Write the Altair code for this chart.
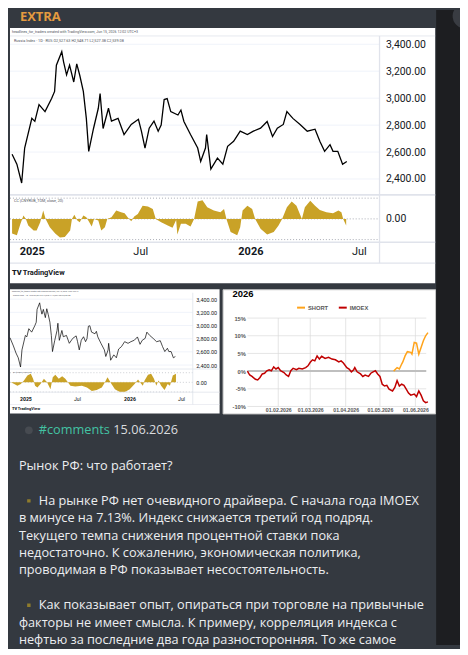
import altair as alt
import pandas as pd

# ---------------- values ----------------
# Russia Index (RTS) closes, day offsets counted from 2025-01-01
rts_days = [-33, -25, -17, -12, 0, 5, 12, 22, 33, 38, 41, 50, 53, 58, 63, 70, 75, 80, 86, 91,
            95, 103, 111, 114, 119, 128, 133, 144, 154, 166, 178, 183, 189, 196, 204, 211, 216,
            221, 226, 232, 244, 249, 254, 265, 277, 282, 290, 292, 299, 310, 319, 327, 337, 348,
            360, 370, 382, 393, 402, 410, 420, 426, 436, 448, 460, 473, 481, 489, 498, 503, 511,
            519, 526]
rts_close = [2583, 2510, 2370, 2630, 2850, 2828, 2952, 2900, 2997, 3050, 3245, 3345, 3270, 3173,
             3245, 3120, 3255, 3170, 3050, 2850, 2605, 2775, 2925, 3035, 2775, 2925, 2830, 2850,
             2730, 2805, 2843, 2755, 2630, 2777, 2830, 2755, 2800, 2990, 2997, 2900, 2875, 2912,
             2827, 2730, 2630, 2530, 2630, 2730, 2473, 2555, 2510, 2643, 2680, 2755, 2730, 2755,
             2777, 2827, 2715, 2777, 2805, 2900, 2850, 2805, 2755, 2770, 2680, 2605, 2655, 2605,
             2605, 2510, 2530]
# the small copy of the chart starts a little earlier
rts_pre_days = [-54, -42]
rts_pre_close = [2815, 2690]

# correlation panel of the large chart
cc_days = [-33, -25, -19, -14, -10, -6, 3, 8, 14, 19, 23, 30, 39, 47, 55, 64, 67, 71, 76, 80, 86,
           91, 95, 100, 104, 111, 116, 122, 126, 133, 141, 149, 155, 160, 166, 171, 177, 185, 194,
           202, 207, 216, 227, 235, 241, 243, 249, 257, 265, 271, 277, 285, 293, 304, 315, 321,
           325, 332, 343, 348, 352, 360, 368, 373, 382, 393, 404, 412, 418, 426, 434, 442, 451,
           456, 465, 473, 481, 492, 503, 512, 517, 520, 525]
cc_vals = [-0.71, -0.79, -0.24, 0.16, 0, -0.32, -0.56, -0.56, -0.16, 0.40, 0, -0.40, -0.71, -0.90,
           -0.87, -0.56, 0, 0.20, -0.08, -0.16, 0.16, 0.08, -0.11, -0.37, 0, -0.08, -0.56, -0.40,
           0, 0.08, 0.40, 0.32, 0.27, 0.08, -0.11, 0.11, 0.24, 0.63, 0.60, 0.48, 0, -0.16, -0.32,
           -0.43, -0.05, -0.75, -0.24, -0.24, -0.37, 0, 0.84, 0.90, 0.56, 0.40, 0.32, 0.48, 0,
           -0.63, -0.79, -0.40, 0.40, 0.63, 0.48, 0, -0.48, -0.76, -0.63, -0.32, 0, 0.56, 0.84,
           0.63, 0, 0.56, 0.87, 0.63, 0.43, 0.32, 0.27, 0.40, 0.32, 0, -0.32]

# correlation panel of the small chart
cc2_days = [-51, -39, -28, -16, -5, 7, 19, 27, 34, 42, 53, 65, 76, 88, 96, 105, 117, 129, 140, 149,
            158, 175, 198, 216, 233, 250, 268, 279, 288, 302, 314, 331, 349, 366, 383, 395, 404,
            412, 418, 430, 441, 451, 459, 467, 476, 488, 499, 507, 517, 528]
cc2_vals = [0, -0.18, -0.36, -0.18, 0.18, 0.71, 0.89, 0.36, -0.36, -0.54, -0.18, 0.36, 0, -0.71,
            0.54, 0.79, 0.36, 0.64, 0.36, 0, -0.36, -0.43, -0.36, -0.54, -0.89, -0.79, -0.54, 0,
            0.54, -0.18, -0.71, -1.0, -1.0, -0.71, -0.18, 0.29, -0.07, -0.36, 0.18, 0.79, 0.89,
            0.36, -0.36, 0.18, -0.36, -0.79, -0.18, -0.36, 0.71, 0.89]

# 2026 panel: day offsets from 2026-01-01, % change since the start of the year
imoex_days = [4, 6, 8, 11, 13, 15, 17, 19, 21, 23, 25, 27, 29, 31, 33, 36, 38, 40, 42, 44, 47, 49,
              52, 55, 57, 59, 61, 63, 65, 67, 69, 72, 75, 78, 81, 84, 86, 88, 91, 93, 95, 97, 98,
              100, 103, 105, 107, 110, 112, 114, 116, 118, 120, 122, 124, 126, 128, 131, 133, 135,
              137, 139, 141, 143, 145, 147, 150, 152, 154, 156, 158, 160, 162]
imoex_pct = [0, -1.1, -1.5, -2.3, -2.5, -1.8, -0.8, -0.6, 0.1, 0.4, 0.1, 1.2, 0.6, 1.0, 0.1, -0.4,
             -1.1, -1.5, 0.1, 0.8, 0.4, 0.8, 0.6, 1.0, 1.5, 2.5, 3.2, 2.9, 4.3, 3.4, 4.2, 3.6, 3.9,
             3.4, 3.2, 2.6, 2.9, 2.3, 1.0, 0.6, -0.2, 0.4, 1.0, -0.2, -0.8, -1.5, -1.1, -1.5, -0.6,
             -0.2, 0.1, -0.8, -1.5, -3.7, -4.2, -4.0, -5.1, -5.6, -4.6, -2.7, -4.2, -3.7, -4.0,
             -5.1, -6.2, -6.8, -6.5, -7.2, -5.6, -6.8, -8.4, -8.9, -8.7]
short_days = [132, 135, 137, 139, 140, 142, 144, 147, 148, 150, 152, 154, 156, 158, 160, 162]
short_pct = [0, 1.0, 0.6, 2.0, 2.6, 4.3, 5.5, 5.3, 4.8, 8.1, 7.9, 4.8, 6.7, 8.6, 10.0, 10.9]
series_names = ["SHORT", "IMOEX"]

price_ticks = [2400, 2600, 2800, 3000, 3200, 3400]
cc_levels = [-1, 0, 1]
pct_ticks = [-10, -5, 0, 5, 10, 15]

# ---------------- texts ----------------
header_label = "EXTRA"
tv_caption = "headlines_for_traders created with TradingView.com, Jun 15, 2026 12:02 UTC+3"
tv_symbol = "Russia Index · 1D · RUS  O2,527.63 H2,548.71 L2,527.38 C2,539.08"
cc_caption = "CC (CNYRUB_TOM, close, 20)"
cc2_caption = "CC (UKOIL, close, 20)"
tv_logo = "TV"
tv_brand = "TradingView"
perf_title = "2026"
post_tag = "#comments"
post_date = "15.06.2026"
post_title = "Рынок РФ: что работает?"
para1 = ["На рынке РФ нет очевидного драйвера. С начала года IMOEX",
         "в минусе на 7.13%. Индекс снижается третий год подряд.",
         "Текущего темпа снижения процентной ставки пока",
         "недостаточно. К сожалению, экономическая политика,",
         "проводимая в РФ показывает несостоятельность."]
para2 = ["Как показывает опыт, опираться при торговле на привычные",
         "факторы не имеет смысла. К примеру, корреляция индекса с",
         "нефтью за последние два года разносторонняя. То же самое"]

# ---------------- styles ----------------
BUBBLE = "#343940"
OUTER = "#1d1e21"
ORANGE_H = "#e49b3f"
TEXT = "#eceef0"
TEAL = "#43c3a3"
GOLD = "#c9a227"
TVTXT = "#131722"
SEP = "#e0e3eb"
TVF = "Roboto"
TGF = "Open Sans"
XLF = "Liberation Sans"

D25 = pd.Timestamp("2025-01-01")
D26 = pd.Timestamp("2026-01-01")


def dates(base, days):
    return [base + pd.Timedelta(days=int(d)) for d in days]


def dt(y, m, d, h=0):
    return alt.DateTime(year=y, month=m, date=d, hours=h)


rts = pd.DataFrame({"date": dates(D25, rts_days), "close": rts_close})
rts_small = pd.DataFrame({"date": dates(D25, rts_pre_days + rts_days),
                          "close": rts_pre_close + rts_close})
cc = pd.DataFrame({"date": dates(D25, cc_days), "cc": cc_vals})
cc2 = pd.DataFrame({"date": dates(D25, cc2_days), "cc": cc2_vals})
perf = pd.concat([
    pd.DataFrame({"date": dates(D26, short_days), "pct": short_pct, "series": series_names[0]}),
    pd.DataFrame({"date": dates(D26, imoex_days), "pct": imoex_pct, "series": series_names[1]}),
], ignore_index=True)

ONE = pd.DataFrame({"k": [0]})


def label(x, y, text, size, color, weight="normal", font=TVF, baseline="middle", clip=False):
    return alt.Chart(ONE).mark_text(
        text=text, fontSize=size, color=color, fontWeight=weight, font=font,
        align="left", baseline=baseline, clip=clip,
    ).encode(x=alt.value(x), y=alt.value(y))


def hrule(y, x0, x1, color, w):
    return alt.Chart(ONE).mark_rule(color=color, strokeWidth=w).encode(
        x=alt.value(x0), x2=alt.value(x1), y=alt.value(y))


def vrule(x, y0, y1, color, w):
    return alt.Chart(ONE).mark_rule(color=color, strokeWidth=w).encode(
        y=alt.value(y0), y2=alt.value(y1), x=alt.value(x))


TIME_TICKS = [dt(2025, 1, 1), dt(2025, 7, 1), dt(2026, 1, 1), dt(2026, 7, 1)]
BOLD_YEAR = {"condition": {"test": "month(datum.value) == 0", "value": "bold"}, "value": "normal"}


def tv_panel(price_df, cc_df, g, cc_text):
    W, H, PX = g["W"], g["H"], g["PX"]
    x_enc = alt.X(
        "date:T", title=None,
        scale=alt.Scale(domain=g["xdom"], range=[0, PX]),
        axis=alt.Axis(
            orient="bottom", offset=g["tlab"] - H, values=TIME_TICKS,
            labelExpr="month(datum.value) == 0 ? timeFormat(datum.value, '%Y') : timeFormat(datum.value, '%b')",
            labelFontWeight=BOLD_YEAR, labelFontSize=g["tfs"], labelFont=TVF, labelColor=TVTXT,
            labelPadding=0, labelBaseline="middle", ticks=False, domain=False, grid=False,
            labelFlush=False, labelOverlap=False,
        ),
    )
    pscale = alt.Scale(domain=[2400, 3400], range=g["prange"], zero=False, nice=False)
    cscale = alt.Scale(domain=[-1, 1], range=g["crange"], zero=False, nice=False)
    p_axis = alt.Axis(
        orient="right", offset=PX - W, values=price_ticks, format=",.2f",
        labelFontSize=g["pfs"], labelFont=TVF, labelColor=TVTXT, labelPadding=g["lp"],
        ticks=False, domain=False, grid=False, labelFlush=False, labelOverlap=False)
    c_axis = alt.Axis(
        orient="right", offset=PX - W, values=[0], format=".2f",
        labelFontSize=g["pfs"], labelFont=TVF, labelColor=TVTXT, labelPadding=g["lp"],
        ticks=False, domain=False, grid=False, labelFlush=False, labelOverlap=False)

    pgrid = alt.Chart(pd.DataFrame({"close": price_ticks})).mark_rule(
        color="#f0f3fa", strokeWidth=1).encode(
        y=alt.Y("close:Q", scale=pscale, axis=p_axis, title=None),
        x=alt.value(0), x2=alt.value(PX))
    pline = alt.Chart(price_df).mark_line(color="#000000", strokeWidth=g["lw"]).encode(
        x=x_enc, y=alt.Y("close:Q", scale=pscale, axis=p_axis, title=None))
    price_group = alt.layer(pgrid, pline)

    cdots = alt.Chart(pd.DataFrame({"cc": cc_levels})).mark_rule(
        color="#a9acb5", strokeDash=[1, 2], strokeWidth=g["dw"]).encode(
        y=alt.Y("cc:Q", scale=cscale, axis=c_axis, title=None),
        x=alt.value(0), x2=alt.value(PX))
    carea = alt.Chart(cc_df).mark_area(color=GOLD, opacity=1).encode(
        x=x_enc, y=alt.Y("cc:Q", scale=cscale, axis=c_axis, title=None), y2=alt.datum(0))
    cc_group = alt.layer(cdots, carea)

    decor = []
    for (y, w) in g["hlines"]:
        decor.append(hrule(y, 0, W, SEP, w))
    decor.append(vrule(PX, g["vtop"], g["vbot"], SEP, g["vw"]))
    cx, cy, cs = g["cap"]
    decor.append(label(cx, cy, tv_caption, cs, "#50535e"))
    sx, sy, ss = g["sym"]
    decor.append(label(sx, sy, tv_symbol, ss, "#50535e"))
    ax, ay, as_ = g["ccap"]
    decor.append(label(ax, ay, cc_text, as_, "#50535e"))
    bx, by, bs = g["brand"]
    decor.append(label(bx, by, tv_logo, bs, TVTXT, weight=900))
    decor.append(label(bx + bs * 1.45, by, tv_brand, bs, TVTXT, weight="bold"))

    return alt.layer(price_group, cc_group, *decor).resolve_scale(y="independent").properties(
        width=W, height=H, view=alt.ViewBackground(fill="white", strokeWidth=0))


BIG = dict(W=428, H=257, PX=372, xdom=[dt(2024, 11, 25, 12), dt(2026, 8, 4, 17)],
           prange=[152, 16.4], crange=[213, 171.3], tlab=225, pfs=10.5, tfs=11, lp=6,
           lw=1.3, dw=1, vw=1.3,
           hlines=[(8, 0.8), (168, 1.6), (215.7, 1.5), (236.7, 1.2)], vtop=8, vbot=236.7,
           cap=(2, 4.5, 3.6), sym=(4, 13.5, 3.8), ccap=(4, 174.5, 3.8), brand=(2, 247, 7.5))
SMALL = dict(W=211, H=125, PX=184, xdom=[dt(2024, 11, 8), dt(2026, 8, 11)],
             prange=[76.3, 10], crange=[103.4, 84], tlab=110, pfs=5.5, tfs=5.2, lp=3,
             lw=0.7, dw=0.6, vw=0.8,
             hlines=[(80.3, 0.8), (103.6, 0.8), (116, 0.6)], vtop=3.5, vbot=116,
             cap=(2, 1.6, 1.9), sym=(3, 5.8, 2.0), ccap=(3, 82.8, 2.0), brand=(2, 121, 4))

big_tv = tv_panel(rts, cc, BIG, cc_caption)
small_tv = tv_panel(rts_small, cc2, SMALL, cc2_caption)

# ---------------- 2026 performance panel ----------------
x26 = alt.Scale(domain=[dt(2026, 1, 5), dt(2026, 6, 10, 12)], range=[25, 205])
y26 = alt.Scale(domain=[-10, 15], range=[118, 29], zero=False, nice=False)
month_ticks = [pd.Timestamp(2026, m, 1) for m in [2, 3, 4, 5, 6]]
GRID26 = "#d9d9d9"
x26_axis = alt.Axis(
    orient="bottom", offset=118 - 125, values=[dt(2026, m, 1) for m in [2, 3, 4, 5, 6]],
    format="%d.%m.%Y", labelFontSize=5.2, labelColor="#595959", labelFont=XLF,
    labelFontWeight="bold", labelPadding=1.5, ticks=False, domain=False, grid=False,
    labelFlush=False, labelOverlap=False)
y26_axis = alt.Axis(
    orient="left", offset=-25, values=pct_ticks, labelExpr="datum.value + '%'",
    labelFontSize=5.8, labelColor="#595959", labelFont=XLF, labelFontWeight="bold",
    labelPadding=2, ticks=False, domain=False, grid=False, labelFlush=False,
    labelOverlap=False)
X26 = dict(scale=x26, axis=x26_axis, title=None)
Y26 = dict(scale=y26, axis=y26_axis, title=None)

vgrid = alt.Chart(pd.DataFrame({"date": month_ticks})).mark_rule(
    color=GRID26, strokeWidth=0.7).encode(
    x=alt.X("date:T", **X26), y=alt.value(29), y2=alt.value(118))
hgrid = alt.Chart(pd.DataFrame({"pct": pct_ticks})).mark_rule(
    color=GRID26, strokeWidth=0.7).encode(
    y=alt.Y("pct:Q", **Y26), x=alt.value(25), x2=alt.value(205))
zero_df = pd.DataFrame({"date": [pd.Timestamp(2026, 1, 5), pd.Timestamp(2026, 6, 10, 12)],
                        "pct": [0, 0]})
zero_line = alt.Chart(zero_df).mark_line(color="#bfbfbf", strokeWidth=2).encode(
    x=alt.X("date:T", **X26), y=alt.Y("pct:Q", **Y26))
perf_lines = alt.Chart(perf).mark_line(strokeWidth=1.5).encode(
    x=alt.X("date:T", **X26),
    y=alt.Y("pct:Q", **Y26),
    color=alt.Color("series:N", scale=alt.Scale(domain=series_names, range=["#ffa31a", "#c00000"]),
                    legend=alt.Legend(orient="none", legendX=74, legendY=13.5,
                                      direction="horizontal", title=None, symbolType="stroke",
                                      symbolStrokeWidth=2, symbolSize=64, labelFontSize=5.8,
                                      labelColor="#595959", labelFont=XLF,
                                      labelFontWeight="bold", labelOffset=2, columnPadding=6,
                                      padding=0)),
)
perf_chart = alt.layer(
    vgrid, hgrid, zero_line, perf_lines,
    label(10, 4.8, perf_title, 9.5, "#000000", weight="bold", font=XLF),
).properties(width=214, height=125,
             view=alt.ViewBackground(fill="white", stroke="#c8c8c8", strokeWidth=1))

# ---------------- header and post text ----------------
header = alt.layer(
    label(10, 0.5, header_label, 13, ORANGE_H, weight="bold", font=TGF, baseline="top"),
).properties(width=428, height=18, view=alt.ViewBackground(strokeWidth=0))

FS = 12.8
tp = [
    alt.Chart(ONE).mark_circle(size=60, color="#474b51", opacity=1, clip=True).encode(
        x=alt.value(19), y=alt.value(16)),
    label(29, 16, post_tag, FS, TEAL, font=TGF, clip=True),
    label(104, 16, post_date, FS, "#dadcdf", font=TGF, clip=True),
    label(9, 51.5, post_title, FS, TEXT, font=TGF, clip=True),
]
p1_y = [87, 104.5, 122, 139.5, 157]
p2_y = [192, 209.5, 227]
for bullet_y in [p1_y[0], p2_y[0]]:
    tp.append(alt.Chart(ONE).mark_square(size=12, color="#8f7c2c", opacity=1, clip=True).encode(
        x=alt.value(19), y=alt.value(bullet_y)))
for i, line in enumerate(para1):
    tp.append(label(29 if i == 0 else 9, p1_y[i], line, FS, TEXT, font=TGF, clip=True))
for i, line in enumerate(para2):
    tp.append(label(29 if i == 0 else 9, p2_y[i], line, FS, TEXT, font=TGF, clip=True))
text_panel = alt.layer(*tp).properties(width=428, height=234,
                                        view=alt.ViewBackground(strokeWidth=0))

strip = alt.layer(
    alt.Chart(ONE).mark_circle(size=620, color="#393c42", opacity=1, clip=True).encode(
        x=alt.value(29), y=alt.value(6)),
).properties(width=24, height=639, view=alt.ViewBackground(fill=OUTER, strokeWidth=0))

row2 = alt.hconcat(small_tv, perf_chart, spacing=3, bounds="flush").resolve_scale(color="independent")
middle = alt.vconcat(big_tv, row2, spacing=5).resolve_scale(color="independent")
main = alt.vconcat(header, middle, text_panel, spacing=0).resolve_scale(color="independent")
chart = alt.hconcat(main, strip, spacing=0).resolve_scale(
    color="independent").properties(background=BUBBLE, padding=0).configure_view(strokeWidth=0)

chart.save("out.html", embed_options={"renderer": "svg", "actions": False})
